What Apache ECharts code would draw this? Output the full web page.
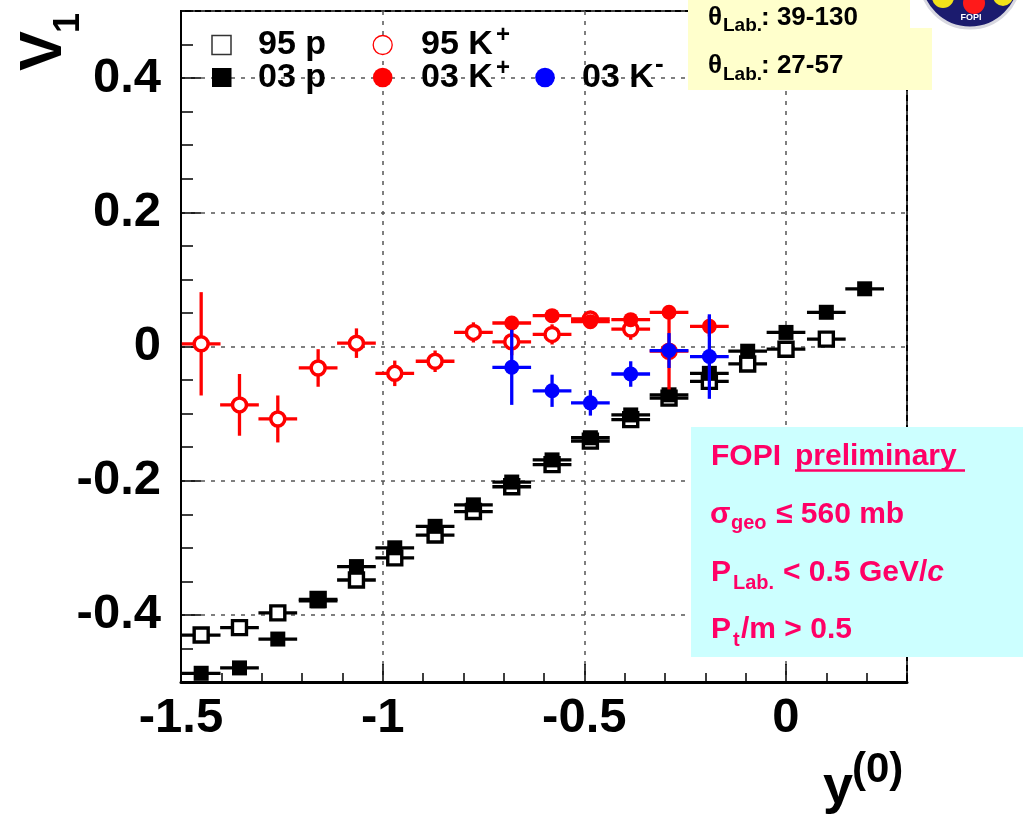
<!DOCTYPE html>
<html>
<head>
<meta charset="utf-8">
<script src="https://cdn.jsdelivr.net/npm/echarts@6/dist/echarts.min.js"></script>
<style>
html,body{margin:0;padding:0;background:#fff;}
#chart{width:1027px;height:825px;}
</style>
</head>
<body>
<div id="chart"></div>
<script>
const FONT = '"Liberation Sans", Arial, Helvetica, sans-serif';

// ---------------- data ----------------
// protons, 2003 data (filled squares)
const pBins03 = [-1.45, -1.355, -1.26, -1.16, -1.065, -0.97, -0.87, -0.775, -0.68, -0.58, -0.485, -0.385, -0.29, -0.19, -0.095, 0.0, 0.1, 0.195];
const v1P03   = [-0.487, -0.479, -0.436, -0.379, -0.328, -0.300, -0.268, -0.236, -0.202, -0.169, -0.136, -0.102, -0.072, -0.040, -0.007, 0.021, 0.051, 0.086];
// protons, 1995 data (open squares)
const pBins95 = [-1.45, -1.355, -1.26, -1.16, -1.065, -0.97, -0.87, -0.775, -0.68, -0.58, -0.485, -0.385, -0.29, -0.19, -0.095, 0.0, 0.1];
const v1P95   = [-0.430, -0.419, -0.397, -0.377, -0.348, -0.315, -0.281, -0.246, -0.209, -0.176, -0.141, -0.109, -0.077, -0.052, -0.026, -0.004, 0.011];
// K+, 1995 data (open red circles)
const kBins95    = [-1.45, -1.355, -1.26, -1.16, -1.065, -0.97, -0.87, -0.775, -0.68, -0.58, -0.485, -0.385, -0.29];
const v1KPlus95  = [0.004, -0.087, -0.108, -0.032, 0.005, -0.040, -0.022, 0.021, 0.007, 0.018, 0.041, 0.026, -0.007];
const errKPlus95 = [0.077, 0.046, 0.035, 0.028, 0.022, 0.019, 0.016, 0.015, 0.020, 0.015, 0.012, 0.016, 0.057];
// K+ and K-, 2003 data (filled red / blue circles)
const kBins03     = [-0.68, -0.58, -0.485, -0.385, -0.29, -0.19];
const v1KPlus03   = [0.035, 0.046, 0.037, 0.040, 0.051, 0.030];
const errKPlus03  = [0.008, 0.008, 0.008, 0.008, 0.010, 0.015];
const v1KMinus03  = [-0.031, -0.066, -0.084, -0.041, -0.006, -0.015];
const errKMinus03 = [0.056, 0.024, 0.019, 0.019, 0.026, 0.063];
// half width of rapidity bins (horizontal error bars)
const binHalfWidth = 0.048;

const legendNames = ['95 p', '95 K', '03 p', '03 K', '03 K'];

// --------------------------------------
function rows(xs, ys, errs) {
  return xs.map((x, i) => [x, ys[i], binHalfWidth, errs ? errs[i] : 0]);
}

function makeRender(marker, color) {
  return function (params, api) {
    const x = api.value(0), y = api.value(1), dx = api.value(2), dy = api.value(3);
    const c = api.coord([x, y]);
    const l = api.coord([x - dx, y]);
    const r = api.coord([x + dx, y]);
    const children = [{
      type: 'line', shape: { x1: l[0], y1: l[1], x2: r[0], y2: r[1] },
      style: { stroke: color, lineWidth: 3.3 }
    }];
    if (dy > 0) {
      const t = api.coord([x, y + dy]);
      const b = api.coord([x, y - dy]);
      children.push({
        type: 'line', shape: { x1: t[0], y1: t[1], x2: b[0], y2: b[1] },
        style: { stroke: color, lineWidth: 3.3 }
      });
    }
    if (marker === 'openSquare') {
      children.push({ type: 'rect', shape: { x: c[0] - 7, y: c[1] - 7, width: 14, height: 14 },
        style: { fill: '#fff', stroke: color, lineWidth: 3.4 } });
    } else if (marker === 'filledSquare') {
      children.push({ type: 'rect', shape: { x: c[0] - 7.5, y: c[1] - 7.5, width: 15, height: 15 },
        style: { fill: color } });
    } else if (marker === 'openCircle') {
      children.push({ type: 'circle', shape: { cx: c[0], cy: c[1], r: 7 },
        style: { fill: '#fff', stroke: color, lineWidth: 3.5 } });
    } else {
      children.push({ type: 'circle', shape: { cx: c[0], cy: c[1], r: 7.5 },
        style: { fill: color } });
    }
    return { type: 'group', children: children };
  };
}

function customSeries(name, data, marker, color, z) {
  return {
    name: name, type: 'custom', xAxisIndex: 0, yAxisIndex: 0, z: z,
    encode: { x: 0, y: 1 },
    data: data,
    renderItem: makeRender(marker, color)
  };
}

function fmt(v) {
  if (Math.abs(v) < 1e-9) return '0';
  return String(Math.round(v * 10) / 10);
}

const gridLine = { show: true, lineStyle: { color: '#555', width: 1.5, type: [4, 6] } };
const pink = '#ff0066';

function txt(x, y, text, size, color, extra) {
  return {
    type: 'text', x: x, y: y, z: 120,
    style: Object.assign({
      text: text, fill: color || '#000',
      font: 'bold ' + size + 'px ' + FONT,
      align: 'left', verticalAlign: 'middle'
    }, extra || {})
  };
}

const graphics = [
  // yellow info box (top right)
  { type: 'rect', z: 100, shape: { x: 688, y: 0, width: 244, height: 90 }, style: { fill: '#ffffcc' } },
  // logo area
  { type: 'rect', z: 101, shape: { x: 910, y: 0, width: 117, height: 28 }, style: { fill: '#fff' } },
  { type: 'circle', z: 102, shape: { cx: 970, cy: -22, r: 50 }, style: { fill: '#1b1b6e', stroke: '#d8d8e0', lineWidth: 3 } },
  { type: 'circle', z: 103, shape: { cx: 943, cy: -3, r: 11 }, style: { fill: '#f2e21a' } },
  { type: 'circle', z: 103, shape: { cx: 1003, cy: -4, r: 10 }, style: { fill: '#f2e21a' } },
  { type: 'circle', z: 103, shape: { cx: 974, cy: 3, r: 11 }, style: { fill: '#ff1a1a' } },
  { type: 'text', z: 104, x: 971, y: 18, style: { text: 'FOPI', fill: '#fff', font: 'bold 9px ' + FONT, align: 'center', verticalAlign: 'middle' } },
  txt(708, 17.5, 'θ', 26),
  txt(723, 26, 'Lab.', 19),
  txt(761, 17.5, ': 39-130', 26),
  txt(708, 66, 'θ', 26),
  txt(723, 74.5, 'Lab.', 19),
  txt(761, 66, ': 27-57', 26),

  // cyan info box
  { type: 'rect', z: 100, shape: { x: 691, y: 427, width: 332, height: 230 }, style: { fill: '#ccffff' } },
  txt(711, 456.5, 'FOPI', 30, pink),
  txt(795, 456.5, 'preliminary', 30, pink),
  { type: 'line', z: 120, shape: { x1: 795, y1: 470.5, x2: 965, y2: 470.5 }, style: { stroke: pink, lineWidth: 2.5 } },
  txt(710, 514.5, 'σ', 30, pink),
  txt(731, 523, 'geo', 20, pink),
  txt(776, 514.5, '≤ 560 mb', 30, pink),
  txt(711, 572.5, 'P', 30, pink),
  txt(733, 583, 'Lab.', 20, pink),
  {
    type: 'text', x: 783, y: 572.5, z: 120,
    style: {
      text: '{n|< 0.5 GeV/}{i|c}', align: 'left', verticalAlign: 'middle',
      rich: {
        n: { fill: pink, font: 'bold 30px ' + FONT },
        i: { fill: pink, font: 'italic bold 30px ' + FONT }
      }
    }
  },
  txt(711, 629.5, 'P', 30, pink),
  txt(733, 640, 't', 20, pink),
  txt(741, 629.5, '/m > 0.5', 30, pink),

  // legend
  { type: 'rect', z: 110, shape: { x: 212, y: 35.5, width: 19, height: 19 }, style: { fill: '#fff', stroke: '#333', lineWidth: 1.5 } },
  txt(258, 45, legendNames[0], 34),
  { type: 'circle', z: 110, shape: { cx: 382.7, cy: 45, r: 9.5 }, style: { fill: '#fff', stroke: '#ff0000', lineWidth: 1.3 } },
  txt(421, 45, legendNames[1], 34),
  txt(496, 35, '+', 24),
  { type: 'rect', z: 110, shape: { x: 212, y: 68, width: 19.5, height: 19 }, style: { fill: '#000' } },
  txt(258, 78, legendNames[2], 34),
  { type: 'circle', z: 110, shape: { cx: 382.7, cy: 77.5, r: 9.8 }, style: { fill: '#ff0000' } },
  txt(421, 78, legendNames[3], 34),
  txt(496, 68, '+', 24),
  { type: 'circle', z: 110, shape: { cx: 545, cy: 77.5, r: 9.8 }, style: { fill: '#0000ff' } },
  txt(582, 78, legendNames[4], 34),
  txt(655, 65, '-', 26),

  // axis titles
  { type: 'text', z: 120, x: 44, y: 51, rotation: Math.PI / 2,
    style: { text: 'V', fill: '#000', font: 'bold 60px ' + FONT, align: 'center', verticalAlign: 'middle' } },
  { type: 'text', z: 120, x: 69, y: 23, rotation: Math.PI / 2,
    style: { text: '1', fill: '#000', font: 'bold 36px ' + FONT, align: 'center', verticalAlign: 'middle' } },
  { type: 'text', z: 120, x: 838, y: 788,
    style: { text: 'y', fill: '#000', font: 'bold 54px ' + FONT, align: 'center', verticalAlign: 'middle' } },
  { type: 'text', z: 120, x: 852, y: 770,
    style: { text: '(0)', fill: '#000', font: 'bold 42px ' + FONT, align: 'left', verticalAlign: 'middle' } }
];

const option = {
  animation: false,
  backgroundColor: '#fff',
  grid: {
    left: 181, top: 11, width: 726, height: 671,
    show: true, borderColor: '#000', borderWidth: 2, backgroundColor: 'transparent'
  },
  xAxis: [
    {
      type: 'value', min: -1.5, max: 0.3, interval: 0.5, position: 'bottom',
      axisLine: { show: true, onZero: false, lineStyle: { color: '#000', width: 3 } },
      axisTick: { show: true, inside: true, length: 18, lineStyle: { color: '#000', width: 1.5 } },
      axisLabel: { show: true, margin: 12, color: '#000', fontFamily: FONT, fontWeight: 'bold', fontSize: 49,
        showMaxLabel: false, formatter: fmt },
      splitLine: gridLine
    },
    {
      type: 'value', min: -1.5, max: 0.3, interval: 0.1, position: 'bottom',
      axisLine: { show: false, onZero: false },
      axisTick: { show: true, inside: true, length: 9, lineStyle: { color: '#000', width: 1.5 } },
      axisLabel: { show: false },
      splitLine: { show: false }
    }
  ],
  yAxis: [
    {
      type: 'value', min: -0.5, max: 0.5, splitNumber: 5, position: 'left',
      axisLine: { show: true, onZero: false, lineStyle: { color: '#000', width: 2 } },
      axisTick: { show: true, inside: true, length: 20, lineStyle: { color: '#000', width: 1.5 } },
      axisLabel: { show: true, margin: 20, color: '#000', fontFamily: FONT, fontWeight: 'bold', fontSize: 49,
        showMinLabel: false, showMaxLabel: false, formatter: fmt },
      splitLine: gridLine
    },
    {
      type: 'value', min: -0.5, max: 0.5, interval: 0.05, position: 'left',
      axisLine: { show: false, onZero: false },
      axisTick: { show: true, inside: true, length: 12, lineStyle: { color: '#000', width: 1.5 } },
      axisLabel: { show: false },
      splitLine: { show: false }
    }
  ],
  series: [
    customSeries('95 p', rows(pBins95, v1P95), 'openSquare', '#000', 2),
    customSeries('03 p', rows(pBins03, v1P03), 'filledSquare', '#000', 3),
    customSeries('95 K+', rows(kBins95, v1KPlus95, errKPlus95), 'openCircle', '#ff0000', 4),
    customSeries('03 K+', rows(kBins03, v1KPlus03, errKPlus03), 'filledCircle', '#ff0000', 5),
    customSeries('03 K-', rows(kBins03, v1KMinus03, errKMinus03), 'filledCircle', '#0000ff', 6)
  ],
  graphic: { elements: graphics }
};

const chart = echarts.init(document.getElementById('chart'), null, { renderer: 'canvas' });
chart.setOption(option);
</script>
</body>
</html>
